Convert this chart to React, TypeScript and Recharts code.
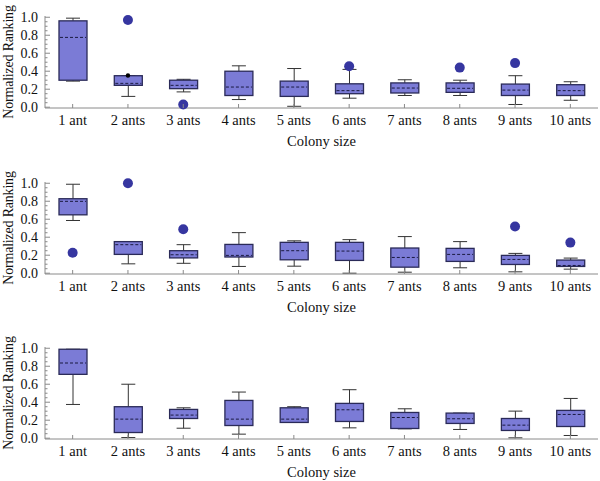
import { ComposedChart, Bar, Line, XAxis, YAxis } from "recharts";

const categories = ["1 ant", "2 ants", "3 ants", "4 ants", "5 ants", "6 ants", "7 ants", "8 ants", "9 ants", "10 ants"];
const yTicks = [0, 0.05, 0.1, 0.15, 0.2, 0.25, 0.3, 0.35, 0.4, 0.45, 0.5, 0.55, 0.6, 0.65, 0.7, 0.75, 0.8, 0.85, 0.9, 0.95, 1.0];

// top panel
const p1Min = [0.29, 0.12, 0.17, 0.085, 0.01, 0.1, 0.13, 0.13, 0.03, 0.077];
const p1Q1 = [0.3, 0.243, 0.206, 0.13, 0.12, 0.15, 0.158, 0.165, 0.13, 0.13];
const p1Med = [0.776, 0.265, 0.243, 0.224, 0.224, 0.184, 0.213, 0.21, 0.19, 0.184];
const p1Q3 = [0.96, 0.35, 0.3, 0.4, 0.29, 0.26, 0.27, 0.27, 0.257, 0.25];
const p1Max = [0.99, 0.35, 0.31, 0.46, 0.43, 0.42, 0.305, 0.3, 0.35, 0.283];
const p1Out = [null, 0.97, 0.03, null, null, 0.456, null, 0.44, 0.49, null];
const p1Near = [null, 0.353, null, null, null, null, null, null, null, null];

// middle panel
const p2Min = [0.586, 0.104, 0.11, 0.075, 0.078, 0.0, 0.011, 0.06, 0.015, 0.045];
const p2Q1 = [0.649, 0.209, 0.17, 0.18, 0.149, 0.142, 0.067, 0.131, 0.097, 0.075];
const p2Med = [0.799, 0.317, 0.205, 0.198, 0.25, 0.246, 0.175, 0.209, 0.153, 0.086];
const p2Q3 = [0.828, 0.351, 0.25, 0.32, 0.343, 0.343, 0.28, 0.276, 0.198, 0.146];
const p2Max = [0.989, 0.351, 0.317, 0.451, 0.36, 0.373, 0.407, 0.351, 0.22, 0.168];
const p2Out = [0.228, 1.0, 0.489, null, null, null, null, null, 0.519, 0.34];
const p2Near = [null, null, null, null, null, null, null, null, null, null];

// bottom panel
const p3Min = [0.375, 0.007, 0.111, 0.045, 0.175, 0.115, 0.104, 0.097, 0.004, 0.03];
const p3Q1 = [0.71, 0.063, 0.219, 0.141, 0.175, 0.186, 0.108, 0.164, 0.086, 0.13];
const p3Med = [0.836, 0.212, 0.257, 0.212, 0.212, 0.316, 0.23, 0.216, 0.145, 0.264];
const p3Q3 = [0.989, 0.35, 0.32, 0.42, 0.338, 0.387, 0.286, 0.279, 0.219, 0.309];
const p3Max = [0.989, 0.6, 0.338, 0.513, 0.35, 0.539, 0.327, 0.279, 0.301, 0.442];
const p3Out = [null, null, null, null, null, null, null, null, null, null];
const p3Near = [null, null, null, null, null, null, null, null, null, null];

const FONT = '"Liberation Serif", "Times New Roman", serif';
const FRAME = "#8a8a8a";
const BOX_FILL = "#7b7bd6";
const BOX_EDGE = "#2a2a58";
const OUT_FILL = "#3636a0";

function buildRows(min, q1, med, q3, max, out, near) {
  return categories.map((name, i) => ({
    name,
    range: [min[i], max[i]],
    min: min[i],
    q1: q1[i],
    med: med[i],
    q3: q3[i],
    max: max[i],
    out: out[i],
    near: near[i],
  }));
}

const panels = [
  buildRows(p1Min, p1Q1, p1Med, p1Q3, p1Max, p1Out, p1Near),
  buildRows(p2Min, p2Q1, p2Med, p2Q3, p2Max, p2Out, p2Near),
  buildRows(p3Min, p3Q1, p3Med, p3Q3, p3Max, p3Out, p3Near),
];

// the bar spans min..max; quartiles are placed along it
function BoxShape(props: any) {
  const { x, y, width, height, payload } = props;
  if (!payload || height == null) return <g />;
  const top = Math.min(y, y + height);
  const h = Math.abs(height);
  const span = payload.max - payload.min;
  const py = (v: number) => (span === 0 ? top : top + ((payload.max - v) / span) * h);
  const cx = x + width / 2;
  const capW = width / 4;
  const yMax = py(payload.max);
  const yMin = py(payload.min);
  const yQ1 = py(payload.q1);
  const yQ3 = py(payload.q3);
  const yMed = py(payload.med);
  return (
    <g>
      <line x1={cx} x2={cx} y1={yMax} y2={yQ3} stroke="#333" strokeWidth={1} />
      <line x1={cx} x2={cx} y1={yQ1} y2={yMin} stroke="#333" strokeWidth={1} />
      <line x1={cx - capW} x2={cx + capW} y1={yMax} y2={yMax} stroke="#333" strokeWidth={1} />
      <line x1={cx - capW} x2={cx + capW} y1={yMin} y2={yMin} stroke="#333" strokeWidth={1} />
      <rect x={x} y={yQ3} width={width} height={Math.max(yQ1 - yQ3, 1)} fill={BOX_FILL} stroke={BOX_EDGE} strokeWidth={1.3} />
      <line x1={x + 1} x2={x + width - 1} y1={yMed} y2={yMed} stroke="#1a1a40" strokeWidth={1} strokeDasharray="3 2" />
    </g>
  );
}

function OutlierDot(props: any) {
  const { cx, cy, value, index } = props;
  if (value == null || cy == null) return <g key={`o${index}`} />;
  return <circle key={`o${index}`} cx={cx} cy={cy} r={5} fill={OUT_FILL} />;
}

function NearDot(props: any) {
  const { cx, cy, value, index } = props;
  if (value == null || cy == null) return <g key={`n${index}`} />;
  return <circle key={`n${index}`} cx={cx} cy={cy} r={2.2} fill="#000" />;
}

function XTick(props: any) {
  const { x, y, payload } = props;
  return (
    <g>
      <line x1={x} x2={x} y1={y} y2={y - 4} stroke={FRAME} />
      <text x={x} y={y + 17} textAnchor="middle" fontFamily={FONT} fontSize={14.5} fill="#111">
        {payload.value}
      </text>
    </g>
  );
}

function YTick(props: any) {
  const { x, y, payload } = props;
  const v = payload.value;
  const major = Math.round(v * 100) % 20 === 0;
  return (
    <g>
      <line x1={x} x2={x + (major ? 5 : 2.5)} y1={y} y2={y} stroke={FRAME} />
      {major && (
        <text x={x - 7} y={y + 4.5} textAnchor="end" fontFamily={FONT} fontSize={14} fill="#111">
          {v.toFixed(1)}
        </text>
      )}
    </g>
  );
}

function XLabel(props: any) {
  const vb = props.viewBox || {};
  return (
    <text x={vb.x + vb.width / 2} y={vb.y + 38} textAnchor="middle" fontFamily={FONT} fontSize={14.5} fill="#111">
      Colony size
    </text>
  );
}

function YLabel(props: any) {
  const vb = props.viewBox || {};
  const cy = vb.y + vb.height / 2;
  return (
    <text
      x={13}
      y={cy}
      transform={`rotate(-90, 13, ${cy})`}
      textAnchor="middle"
      fontFamily={FONT}
      fontSize={14}
      letterSpacing={-0.2}
      fill="#111"
    >
      Normalized Ranking
    </text>
  );
}

const Y_DOMAIN = [-0.009, 1.014];

function Panel({ data }: { data: any[] }) {
  return (
    <ComposedChart width={600} height={150} data={data} margin={{ top: 16, right: 2, bottom: 0, left: 0 }}>
      <XAxis
        dataKey="name"
        height={42}
        interval={0}
        tick={<XTick />}
        tickLine={false}
        tickSize={0}
        tickMargin={0}
        axisLine={{ stroke: FRAME }}
        label={<XLabel />}
      />
      <XAxis xAxisId="top" orientation="top" dataKey="name" height={0} tick={false} tickLine={false} axisLine={{ stroke: FRAME }} />
      <YAxis
        width={45}
        type="number"
        domain={Y_DOMAIN}
        ticks={yTicks}
        interval={0}
        tick={<YTick />}
        tickLine={false}
        tickSize={0}
        tickMargin={0}
        axisLine={{ stroke: FRAME }}
        label={<YLabel />}
      />
      <YAxis yAxisId="right" orientation="right" width={0} type="number" domain={Y_DOMAIN} tick={false} tickLine={false} axisLine={{ stroke: FRAME }} />
      <Bar dataKey="range" barSize={28} shape={<BoxShape />} isAnimationActive={false} />
      <Line dataKey="out" stroke="none" dot={OutlierDot} activeDot={false} isAnimationActive={false} />
      <Line dataKey="near" stroke="none" dot={NearDot} activeDot={false} isAnimationActive={false} />
    </ComposedChart>
  );
}

export default function App() {
  return (
    <div style={{ position: "absolute", left: 0, top: 0, width: 600, height: 481, background: "#fff" }}>
      <div style={{ position: "absolute", left: 0, top: 0 }}>
        <Panel data={panels[0]} />
      </div>
      <div style={{ position: "absolute", left: 0, top: 166 }}>
        <Panel data={panels[1]} />
      </div>
      <div style={{ position: "absolute", left: 0, top: 331 }}>
        <Panel data={panels[2]} />
      </div>
    </div>
  );
}
